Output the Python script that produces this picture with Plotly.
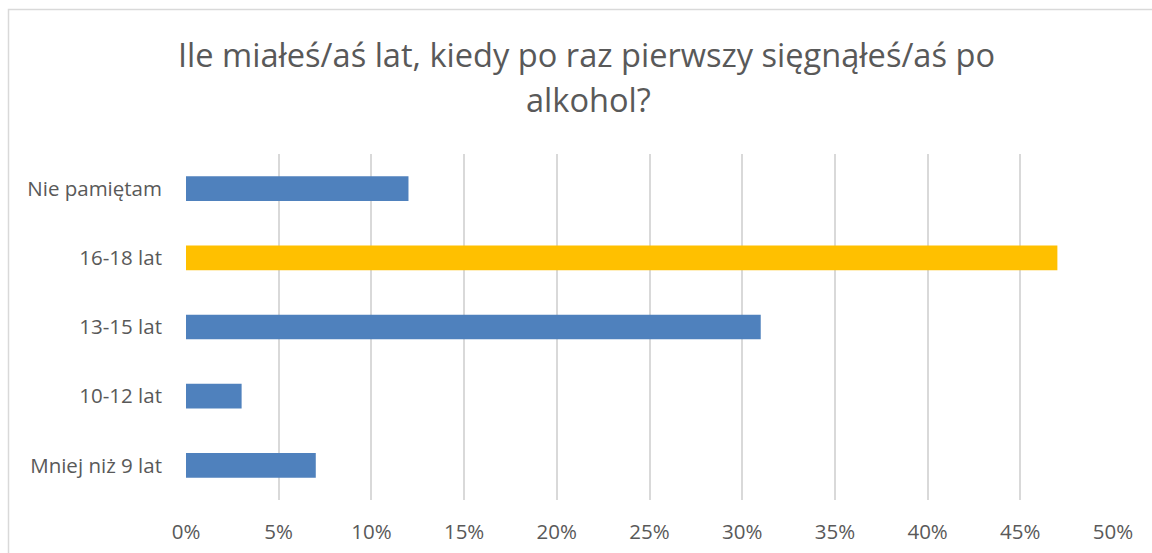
import plotly.graph_objects as go

categories = ["Mniej niż 9 lat", "10-12 lat", "13-15 lat", "16-18 lat", "Nie pamiętam"]
values = [0.07, 0.03, 0.31, 0.47, 0.12]
bar_colors = ["#4F81BD", "#4F81BD", "#4F81BD", "#FFC000", "#4F81BD"]
x_ticks = [0, 0.05, 0.10, 0.15, 0.20, 0.25, 0.30, 0.35, 0.40, 0.45, 0.50]
x_labels = ["0%", "5%", "10%", "15%", "20%", "25%", "30%", "35%", "40%", "45%", "50%"]
title_lines = ["Ile miałeś/aś lat, kiedy po raz pierwszy sięgnąłeś/aś po", "alkohol?"]

FONT = "Open Sans"
TXT = "#595959"
GRID = "#D9D9D9"
TICK_SIZE = 20.5
TITLE_SIZE = 32.6

fig = go.Figure(go.Bar(
    x=values, y=categories, orientation="h",
    marker=dict(color=bar_colors, line=dict(width=0)),
    hoverinfo="x+y",
))

fig.update_layout(
    width=1152, height=553,
    margin=dict(l=186, r=39, t=154, b=53, autoexpand=False),
    paper_bgcolor="white", plot_bgcolor="white",
    bargap=0.643,
    showlegend=False,
    font=dict(family=FONT, color=TXT, size=TICK_SIZE),
)
fig.update_xaxes(
    range=[0, 0.5], tickvals=x_ticks, ticktext=x_labels,
    showgrid=True, gridcolor=GRID, gridwidth=2, zeroline=False,
    showline=False, ticks="", ticklabelstandoff=17, automargin=False,
    tickfont=dict(family=FONT, size=TICK_SIZE, color=TXT),
)
fig.update_yaxes(
    categoryorder="array", categoryarray=categories,
    range=[-0.5, 4.5], showgrid=False, zeroline=False,
    showline=False, ticks="", ticklabelstandoff=23, automargin=False,
    tickfont=dict(family=FONT, size=TICK_SIZE, color=TXT),
)

# title lines
fig.add_annotation(text=title_lines[0], xref="paper", yref="paper",
                   x=(586 - 186) / 927, y=(500 - 54) / 346, xanchor="center", yanchor="middle",
                   showarrow=False, font=dict(family=FONT, size=TITLE_SIZE, color=TXT))
fig.add_annotation(text=title_lines[1], xref="paper", yref="paper",
                   x=(588 - 186) / 927, y=(500 - 100) / 346, xanchor="center", yanchor="middle",
                   showarrow=False, font=dict(family=FONT, size=TITLE_SIZE, color=TXT))

# chart border (extends past the visible window on right/bottom)
fig.add_shape(type="rect", xref="paper", yref="paper",
              x0=(8.5 - 186) / 927, x1=(1400 - 186) / 927,
              y0=(500 - 700) / 346, y1=(500 - 9.5) / 346,
              line=dict(color=GRID, width=1.5), fillcolor="rgba(0,0,0,0)", layer="below")

fig.write_html("out.html", config={"displayModeBar": False},
               post_script="document.body.style.margin='0';document.body.style.overflow='hidden';")
